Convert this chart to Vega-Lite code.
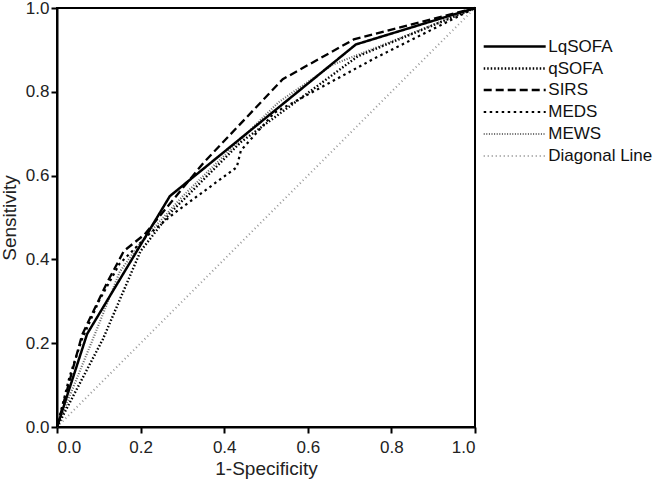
{
  "$schema": "https://vega.github.io/schema/vega-lite/v6.json",
  "autosize": {"type": "none"},
  "width": 418,
  "height": 419,
  "padding": {"left": 57, "top": 8, "right": 179, "bottom": 53},
  "background": "white",
  "config": {
    "font": "Liberation Sans",
    "view": {"stroke": "black", "strokeWidth": 2},
    "axis": {"grid": false, "domainColor": "black", "domainWidth": 2, "tickColor": "black", "tickWidth": 2, "tickSize": 6, "labelFontSize": 17, "labelColor": "#222", "titleFontSize": 19, "titleFontWeight": "normal", "titleColor": "#222"}
  },
  "data": {"values": [
    {"s": "Diagonal Line", "x": 0, "y": 0},
    {"s": "Diagonal Line", "x": 1, "y": 1},
    {"s": "MEWS", "x": 0, "y": 0},
    {"s": "MEWS", "x": 0.09, "y": 0.22},
    {"s": "MEWS", "x": 0.15, "y": 0.37},
    {"s": "MEWS", "x": 0.2, "y": 0.44},
    {"s": "MEWS", "x": 0.3, "y": 0.55},
    {"s": "MEWS", "x": 0.53, "y": 0.775},
    {"s": "MEWS", "x": 0.66, "y": 0.865},
    {"s": "MEWS", "x": 0.75, "y": 0.9},
    {"s": "MEWS", "x": 1, "y": 1},
    {"s": "MEDS", "x": 0, "y": 0},
    {"s": "MEDS", "x": 0.03, "y": 0.12},
    {"s": "MEDS", "x": 0.06, "y": 0.21},
    {"s": "MEDS", "x": 0.1, "y": 0.3},
    {"s": "MEDS", "x": 0.15, "y": 0.39},
    {"s": "MEDS", "x": 0.22, "y": 0.46},
    {"s": "MEDS", "x": 0.28, "y": 0.51},
    {"s": "MEDS", "x": 0.43, "y": 0.62},
    {"s": "MEDS", "x": 0.44, "y": 0.66},
    {"s": "MEDS", "x": 0.52, "y": 0.75},
    {"s": "MEDS", "x": 0.76, "y": 0.88},
    {"s": "MEDS", "x": 1, "y": 1},
    {"s": "SIRS", "x": 0, "y": 0},
    {"s": "SIRS", "x": 0.06, "y": 0.22},
    {"s": "SIRS", "x": 0.12, "y": 0.345},
    {"s": "SIRS", "x": 0.16, "y": 0.42},
    {"s": "SIRS", "x": 0.21, "y": 0.46},
    {"s": "SIRS", "x": 0.35, "y": 0.63},
    {"s": "SIRS", "x": 0.54, "y": 0.83},
    {"s": "SIRS", "x": 0.71, "y": 0.925},
    {"s": "SIRS", "x": 1, "y": 1},
    {"s": "qSOFA", "x": 0, "y": 0},
    {"s": "qSOFA", "x": 0.11, "y": 0.21},
    {"s": "qSOFA", "x": 0.2, "y": 0.42},
    {"s": "qSOFA", "x": 0.27, "y": 0.51},
    {"s": "qSOFA", "x": 0.44, "y": 0.68},
    {"s": "qSOFA", "x": 0.72, "y": 0.885},
    {"s": "qSOFA", "x": 1, "y": 1},
    {"s": "LqSOFA", "x": 0, "y": 0},
    {"s": "LqSOFA", "x": 0.072, "y": 0.222},
    {"s": "LqSOFA", "x": 0.27, "y": 0.551},
    {"s": "LqSOFA", "x": 0.715, "y": 0.913},
    {"s": "LqSOFA", "x": 1, "y": 1}
  ]},
  "mark": {"type": "line", "strokeCap": "butt", "strokeJoin": "miter", "clip": false},
  "encoding": {
    "x": {"field": "x", "type": "quantitative", "scale": {"domain": [0, 1], "nice": false}, "axis": {"values": [0, 0.2, 0.4, 0.6, 0.8, 1], "format": ".1f", "title": "1-Specificity", "labelPadding": 6, "titlePadding": 4}},
    "y": {"field": "y", "type": "quantitative", "scale": {"domain": [0, 1], "nice": false}, "axis": {"values": [0, 0.2, 0.4, 0.6, 0.8, 1], "format": ".1f", "title": "Sensitivity", "labelPadding": 2, "titlePadding": 6}},
    "color": {"field": "s", "type": "nominal", "scale": {"domain": ["LqSOFA", "qSOFA", "SIRS", "MEDS", "MEWS", "Diagonal Line"], "range": ["#000000", "#000000", "#000000", "#000000", "#666666", "#999999"]},
      "legend": {"title": null, "orient": "none", "legendX": 445.7, "legendY": 26.5, "symbolType": "M-3,0H3", "symbolSize": 427, "labelFontSize": 17, "labelColor": "#111", "rowPadding": 2, "labelOffset": 21.6, "symbolOpacity": 1, "symbolFillColor": "transparent"}},
    "strokeDash": {"field": "s", "type": "nominal", "scale": {"domain": ["LqSOFA", "qSOFA", "SIRS", "MEDS", "MEWS", "Diagonal Line"], "range": [[1, 0], [1.5, 2], [8, 4], [2.5, 3.5], [1, 1.6], [1, 3]]}, "legend": {"title": null}},
    "strokeWidth": {"field": "s", "type": "nominal", "scale": {"domain": ["LqSOFA", "qSOFA", "SIRS", "MEDS", "MEWS", "Diagonal Line"], "range": [2.5, 2, 3, 3, 3, 1]}, "legend": {"title": null}}
  }
}
